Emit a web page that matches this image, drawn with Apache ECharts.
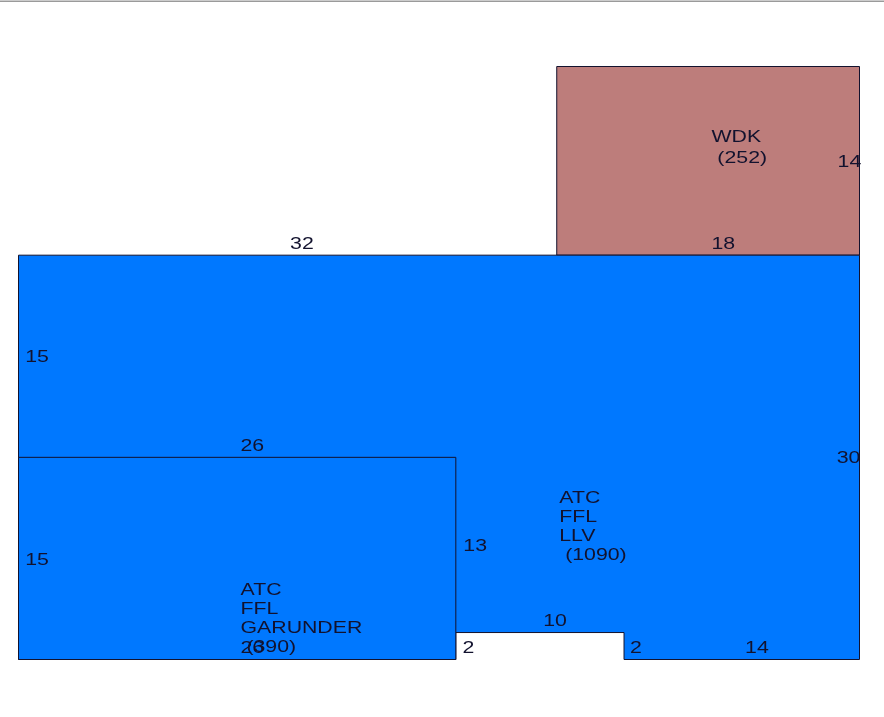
<!DOCTYPE html>
<html>
<head>
<meta charset="utf-8">
<style>html,body{margin:0;padding:0;background:#fff}#c{width:884px;height:717px}</style>
<script src="https://cdn.jsdelivr.net/npm/echarts@6/dist/echarts.min.js"></script>
</head>
<body>
<div id="c"></div>
<script>
// Area names and their fill colours, painted in this order
var areaNames = ['WDK', 'ATC FFL LLV', 'ATC FFL GARUNDER'];
var areaColors = ['#bd7d7b', '#0078ff', '#0078ff'];
// Outline vertices in feet
var wdkX = [32, 50, 50, 32];
var wdkY = [30, 30, 44, 44];
var llvX = [0, 26, 26, 36, 36, 50, 50, 0];
var llvY = [0, 0, 2, 2, 0, 0, 30, 30];
var garunderX = [0, 26, 26, 0];
var garunderY = [0, 0, 15, 15];
var outlinesX = [wdkX, llvX, garunderX];
var outlinesY = [wdkY, llvY, garunderY];

// Sketch dimension labels (feet), anchor in plan coordinates
var dimText = ['32', '18', '14', '15', '15', '26', '30', '13', '10', '2', '2', '14', '26'];
var dimX = [16.85, 41.9, 49.4, 1.1, 1.1, 13.9, 49.35, 27.15, 31.9, 26.75, 36.7, 43.9, 13.9];
var dimY = [30.8, 30.8, 36.87, 22.42, 7.32, 15.77, 14.87, 8.35, 2.8, 0.8, 0.8, 0.8, 0.8];

// Area captions, one row each, left aligned
var capText = ['WDK', '(252)', 'ATC', 'FFL', 'LLV', '(1090)', 'ATC', 'FFL', 'GARUNDER', '(390)'];
var capX = [41.2, 41.55, 32.15, 32.15, 32.15, 32.5, 13.2, 13.2, 13.2, 13.55];
var capY = [38.72, 37.2, 11.93, 10.52, 9.1, 7.7, 5.13, 3.72, 2.3, 0.85];

var chart = echarts.init(document.getElementById('c'), null, {renderer: 'canvas'});
var inkColor = '#12122e';
var textFont = '16px "Liberation Sans"';
var stretch = 1.33;

function renderArea(params, api) {
  var i = api.value(0);
  var pts = outlinesX[i].map(function (x, k) { return api.coord([x, outlinesY[i][k]]); });
  return {
    type: 'polygon',
    shape: {points: pts},
    style: {fill: areaColors[i], stroke: inkColor, lineWidth: 1}
  };
}
function textRenderer(list, align) {
  return function (params, api) {
    var p = api.coord([api.value(0), api.value(1)]);
    return {
      type: 'text',
      x: p[0], y: p[1], scaleX: stretch,
      style: {
        text: list[params.dataIndex], font: textFont, fill: inkColor,
        textAlign: align, textVerticalAlign: 'middle'
      }
    };
  };
}
function pairs(a, b) { return a.map(function (v, i) { return [v, b[i]]; }); }

chart.setOption({
  animation: false,
  backgroundColor: '#ffffff',
  grid: {left: 18.5, top: 66.5, width: 841, height: 593, containLabel: false},
  xAxis: {type: 'value', min: 0, max: 50, show: false},
  yAxis: {type: 'value', min: 0, max: 44, show: false},
  graphic: [{
    type: 'rect', left: 0, top: 0.5,
    shape: {width: 884, height: 1.5},
    style: {fill: '#9a9a9a'}, silent: true
  }],
  series: [
    {
      type: 'custom', name: 'Areas', clip: false, silent: true,
      data: areaNames.map(function (n, i) { return [i]; }),
      encode: {x: [], y: []},
      renderItem: renderArea, z: 2
    },
    {
      type: 'custom', name: 'Dimensions', clip: false, silent: true,
      data: pairs(dimX, dimY), renderItem: textRenderer(dimText, 'center'), z: 3
    },
    {
      type: 'custom', name: 'Captions', clip: false, silent: true,
      data: pairs(capX, capY), renderItem: textRenderer(capText, 'left'), z: 3
    }
  ]
});
</script>
</body>
</html>
